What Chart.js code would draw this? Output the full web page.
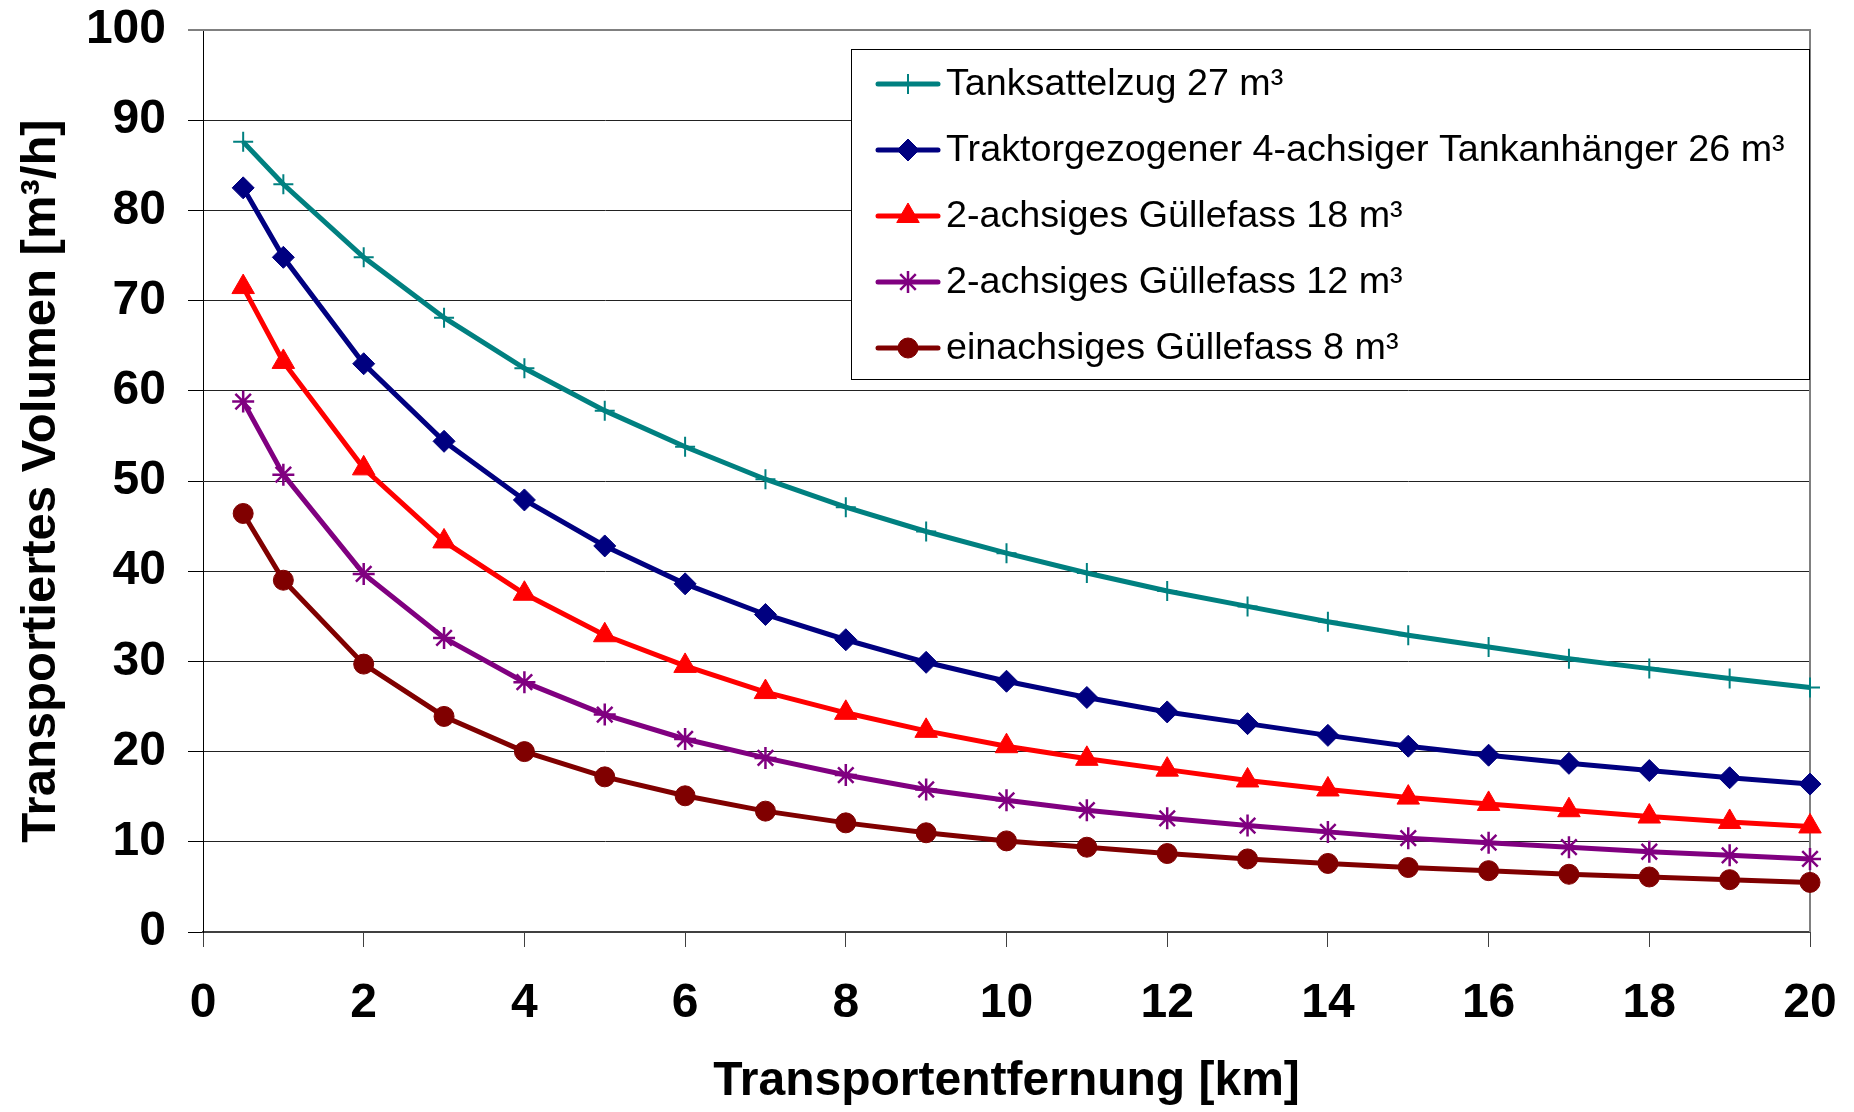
<!DOCTYPE html>
<html>
<head>
<meta charset="utf-8">
<script src="https://cdn.jsdelivr.net/npm/chart.js@4.4.1/dist/chart.umd.min.js"></script>
<style>
html,body{margin:0;padding:0;background:#fff;overflow:hidden}
#c{display:block}
</style>
</head>
<body>
<canvas id="c" width="1854" height="1112"></canvas>
<script>
// ---- data ----
const distancesKm = [0.5, 1, 2, 3, 4, 5, 6, 7, 8, 9, 10, 11, 12, 13, 14, 15, 16, 17, 18, 19, 20];
const seriesNames = [
  'Tanksattelzug 27 m³',
  'Traktorgezogener 4-achsiger Tankanhänger 26 m³',
  '2-achsiges Güllefass 18 m³',
  '2-achsiges Güllefass 12 m³',
  'einachsiges Güllefass 8 m³'
];
const tanksattelzug27 = [87.6, 82.9, 74.8, 68.1, 62.5, 57.8, 53.8, 50.2, 47.1, 44.4, 42.0, 39.8, 37.8, 36.1, 34.4, 32.9, 31.6, 30.3, 29.2, 28.1, 27.1];
const tankanhaenger26 = [82.5, 74.8, 63.0, 54.4, 47.9, 42.8, 38.6, 35.2, 32.4, 29.9, 27.8, 26.0, 24.4, 23.1, 21.8, 20.6, 19.6, 18.7, 17.9, 17.1, 16.4];
const guellefass18 = [71.5, 63.2, 51.4, 43.3, 37.5, 32.9, 29.5, 26.6, 24.3, 22.3, 20.6, 19.2, 18.0, 16.8, 15.8, 14.9, 14.2, 13.5, 12.8, 12.2, 11.7];
const guellefass12 = [58.8, 50.7, 39.7, 32.6, 27.7, 24.1, 21.4, 19.3, 17.4, 15.8, 14.6, 13.5, 12.6, 11.8, 11.1, 10.4, 9.9, 9.4, 8.9, 8.5, 8.1];
const guellefass8 = [46.4, 39.0, 29.7, 23.9, 20.0, 17.2, 15.1, 13.4, 12.1, 11.0, 10.1, 9.4, 8.7, 8.1, 7.6, 7.15, 6.8, 6.4, 6.1, 5.8, 5.5];
const xTickValues = [0, 2, 4, 6, 8, 10, 12, 14, 16, 18, 20];
const yTickValues = [0, 10, 20, 30, 40, 50, 60, 70, 80, 90, 100];
const xAxisTitle = 'Transportentfernung [km]';
const yAxisTitle = 'Transportiertes Volumen [m³/h]';

// ---- styling ----
const FONT = "'Liberation Sans', Arial, Helvetica, sans-serif";
const seriesValues = [tanksattelzug27, tankanhaenger26, guellefass18, guellefass12, guellefass8];
const seriesColors = ['#008080', '#000080', '#FF0000', '#800080', '#800000'];
const seriesMarkers = ['cross', 'rectRot', 'triangle', 'star', 'circle'];
const markerRadius = [10, 11, 13, 11, 10];
const markerBorder = [2, 1, 1, 2.5, 1];

const datasets = seriesValues.map((vals, i) => ({
  label: seriesNames[i],
  data: vals.map((v, j) => ({ x: distancesKm[j], y: v })),
  borderColor: seriesColors[i],
  backgroundColor: seriesColors[i],
  pointBackgroundColor: seriesColors[i],
  pointBorderColor: seriesColors[i],
  pointStyle: seriesMarkers[i],
  pointRadius: markerRadius[i],
  pointBorderWidth: markerBorder[i],
  borderWidth: 5,
  tension: 0,
  clip: false
}));

function fallbackPoint(ctx, style, r, x, y) {
  ctx.beginPath();
  if (style === 'circle') { ctx.arc(x, y, r, 0, Math.PI * 2); ctx.fill(); }
  else if (style === 'rectRot') { ctx.moveTo(x, y - r); ctx.lineTo(x + r, y); ctx.lineTo(x, y + r); ctx.lineTo(x - r, y); ctx.closePath(); ctx.fill(); }
  else if (style === 'triangle') { ctx.moveTo(x, y - r); ctx.lineTo(x + r * 0.866, y + r / 2); ctx.lineTo(x - r * 0.866, y + r / 2); ctx.closePath(); ctx.fill(); }
  else if (style === 'cross') { ctx.moveTo(x, y - r); ctx.lineTo(x, y + r); ctx.moveTo(x - r, y); ctx.lineTo(x + r, y); ctx.stroke(); }
  else if (style === 'star') {
    const d = r * Math.SQRT1_2;
    ctx.moveTo(x, y - r); ctx.lineTo(x, y + r); ctx.moveTo(x - r, y); ctx.lineTo(x + r, y);
    ctx.moveTo(x - d, y - d); ctx.lineTo(x + d, y + d); ctx.moveTo(x - d, y + d); ctx.lineTo(x + d, y - d); ctx.stroke();
  }
}

const boxLegend = {
  id: 'boxLegend',
  afterDatasetsDraw(chart) {
    const { ctx, chartArea } = chart;
    const w = 958, h = 330;
    const x0 = chartArea.right - w - 1, y0 = chartArea.top + 19;
    ctx.save();
    ctx.fillStyle = '#fff';
    ctx.fillRect(x0, y0, w, h);
    ctx.strokeStyle = '#000';
    ctx.lineWidth = 1;
    ctx.strokeRect(x0 + 0.5, y0 + 0.5, w, h);
    chart.data.datasets.forEach((ds, i) => {
      const cy = y0 + 35 + i * 66;
      ctx.strokeStyle = ds.borderColor;
      ctx.lineCap = 'round';
      ctx.lineWidth = 5;
      ctx.beginPath();
      ctx.moveTo(x0 + 27, cy);
      ctx.lineTo(x0 + 87, cy);
      ctx.stroke();
      ctx.lineCap = 'butt';
      ctx.fillStyle = ds.pointBackgroundColor;
      ctx.strokeStyle = ds.pointBorderColor;
      ctx.lineWidth = ds.pointBorderWidth;
      if (Chart.helpers && Chart.helpers.drawPoint) {
        Chart.helpers.drawPoint(ctx, { pointStyle: ds.pointStyle, radius: ds.pointRadius, borderWidth: ds.pointBorderWidth, rotation: 0 }, x0 + 57, cy);
      } else {
        fallbackPoint(ctx, ds.pointStyle, ds.pointRadius, x0 + 57, cy);
      }
      ctx.fillStyle = '#000';
      ctx.font = '37.7px ' + FONT;
      ctx.textAlign = 'left';
      ctx.textBaseline = 'middle';
      ctx.fillText(ds.label, x0 + 95, cy + 1);
    });
    ctx.restore();
  }
};

const plotFrame = {
  id: 'plotFrame',
  beforeDatasetsDraw(chart) {
    const { ctx, chartArea } = chart;
    ctx.save();
    ctx.strokeStyle = '#808080';
    ctx.lineWidth = 2;
    ctx.beginPath();
    ctx.moveTo(chartArea.left, chartArea.top);
    ctx.lineTo(chartArea.right, chartArea.top);
    ctx.lineTo(chartArea.right, chartArea.bottom);
    ctx.stroke();
    ctx.restore();
  }
};

new Chart(document.getElementById('c'), {
  type: 'line',
  data: { datasets },
  options: {
    responsive: false,
    animation: false,
    devicePixelRatio: 1,
    layout: { padding: { left: 0, top: 30, right: 44, bottom: 0 } },
    plugins: { legend: { display: false }, tooltip: { enabled: false } },
    scales: {
      x: {
        type: 'linear',
        min: 0, max: 20,
        afterBuildTicks: (s) => { s.ticks = xTickValues.map(v => ({ value: v })); },
        afterFit: (s) => { s.height = 180; s.paddingLeft = 0; s.paddingRight = 0; },
        grid: { drawOnChartArea: false, drawTicks: true, tickLength: 15, tickColor: '#404040', tickWidth: 1 },
        border: { display: true, color: '#404040', width: 2 },
        ticks: { color: '#000', font: { family: FONT, size: 48, weight: 'bold' }, padding: 28, maxRotation: 0, autoSkip: false },
        title: { display: true, text: xAxisTitle, color: '#000', font: { family: FONT, size: 48, weight: 'bold' }, padding: { top: 0, bottom: 1 } }
      },
      y: {
        type: 'linear',
        min: 0, max: 100,
        afterBuildTicks: (s) => { s.ticks = yTickValues.map(v => ({ value: v })); },
        afterFit: (s) => { s.width = 203; s.paddingTop = 0; s.paddingBottom = 0; },
        grid: {
          color: (c) => (c.tick && c.tick.value === 100 ? '#808080' : '#222'),
          lineWidth: (c) => (c.tick && c.tick.value === 100 ? 2 : 1),
          tickColor: '#000', tickLength: 15, tickWidth: 1
        },
        border: { display: true, color: '#000', width: 1 },
        ticks: { color: '#000', font: { family: FONT, size: 48, weight: 'bold' }, padding: 22, autoSkip: false },
        title: { display: true, text: yAxisTitle, color: '#000', font: { family: FONT, size: 49, weight: 'bold' }, padding: { top: 12, bottom: 0 } }
      }
    }
  },
  plugins: [plotFrame, boxLegend]
});
</script>
</body>
</html>
